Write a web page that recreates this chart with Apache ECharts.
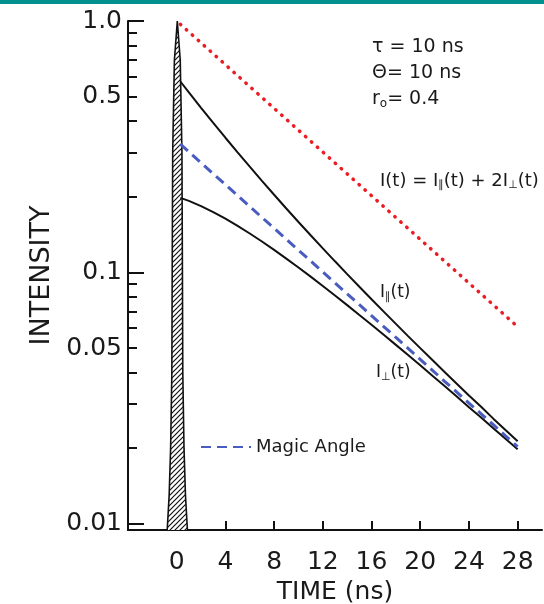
<!DOCTYPE html>
<html lang="en">
<head>
    <meta charset="UTF-8">
    <title>Intensity decay</title>
    <style>
        html, body { margin: 0; padding: 0; background: #fff; }
    </style>
</head>
<body>
<div id="chartBox" style="width: 544px;height: 604px;"></div>
<script type="text/javascript" src="https://cdn.jsdelivr.net/npm/echarts@6/dist/echarts.min.js"></script>
<script type="text/javascript">
    // time points (ns) of the decay curves
    var times = [0.3, 1, 2, 3, 4, 5, 6, 7, 8, 9, 10, 11, 12, 13, 14, 15, 16, 17, 18, 19, 20, 21, 22, 23, 24, 25, 26, 27, 28];
    // I(t) = I_par + 2 I_perp
    var totalI = [0.9704, 0.9048, 0.8187, 0.7408, 0.6703, 0.6065, 0.5488, 0.4966, 0.4493, 0.4066, 0.3679, 0.3329, 0.3012, 0.2725, 0.2466, 0.2231, 0.2019, 0.1827, 0.1653, 0.1496, 0.1353, 0.1225, 0.1108, 0.1003, 0.0907, 0.0821, 0.0743, 0.0672, 0.0608];
    var parallelI = [0.5746, 0.5199, 0.4517, 0.3933, 0.3433, 0.3003, 0.2633, 0.2313, 0.2036, 0.1796, 0.1587, 0.1405, 0.1246, 0.1107, 0.0984, 0.0877, 0.0782, 0.0698, 0.0624, 0.0558, 0.0500, 0.0448, 0.0402, 0.0361, 0.0324, 0.0292, 0.0262, 0.0236, 0.0213];
    var perpI = [0.1979, 0.1925, 0.1835, 0.1738, 0.1635, 0.1531, 0.1428, 0.1327, 0.1229, 0.1135, 0.1046, 0.0962, 0.0883, 0.0809, 0.0741, 0.0677, 0.0619, 0.0565, 0.0515, 0.0469, 0.0427, 0.0388, 0.0353, 0.0321, 0.0291, 0.0265, 0.0240, 0.0218, 0.0198];
    var magicI = [0.3235, 0.3016, 0.2729, 0.2469, 0.2234, 0.2022, 0.1829, 0.1655, 0.1498, 0.1355, 0.1226, 0.1110, 0.1004, 0.0908, 0.0822, 0.0744, 0.0673, 0.0609, 0.0551, 0.0499, 0.0451, 0.0408, 0.0369, 0.0334, 0.0302, 0.0274, 0.0248, 0.0224, 0.0203];

    // excitation pulse outline
    var pulseT = [-0.78, -0.62, -0.5, -0.4, -0.37, -0.33, -0.19, 0.05, 0.29, 0.43, 0.47, 0.5, 0.6, 0.72, 0.88];
    var pulseI = [0.00945, 0.013, 0.02, 0.04, 0.1, 0.3, 0.7, 1.0, 0.7, 0.3, 0.1, 0.04, 0.02, 0.013, 0.00945];

    // axis ticks
    var xTicks = [0, 4, 8, 12, 16, 20, 24, 28];
    var yLabelValues = [0.01, 0.05, 0.1, 0.5, 1];
    var yLabelTexts = ['0.01', '0.05', '0.1', '0.5', '1.0'];
    var yMajorTicks = [0.01, 0.1, 1];
    var yMinorTicks = [0.02, 0.03, 0.04, 0.05, 0.06, 0.07, 0.08, 0.09, 0.2, 0.3, 0.4, 0.5, 0.6, 0.7, 0.8, 0.9];

    function zip(xs, ys) {
        return xs.map(function (x, i) { return [x, ys[i]]; });
    }

    function hatch() {
        var c = document.createElement('canvas');
        c.width = 5; c.height = 5;
        var g = c.getContext('2d');
        g.fillStyle = '#fff';
        g.fillRect(0, 0, 5, 5);
        g.strokeStyle = '#111';
        g.lineWidth = 1.2;
        g.beginPath();
        g.moveTo(0, 5); g.lineTo(5, 0);
        g.moveTo(-1, 1); g.lineTo(1, -1);
        g.moveTo(4, 6); g.lineTo(6, 4);
        g.stroke();
        return c;
    }

    var font = '"DejaVu Sans", sans-serif';
    var yMin = 0.00945;
    var subStyle = { fontSize: 11, padding: [9, 0, 0, 0], fontFamily: font, fill: '#1a1a1a' };

    var myChart = echarts.init(document.getElementById('chartBox'));
    myChart.setOption({
        animation: false,
        backgroundColor: '#fff',
        grid: { left: 128, top: 21, right: 2, bottom: 74, outerBoundsMode: 'none', containLabel: false },
        legend: {
            data: ['Magic Angle'],
            left: 195, top: 433,
            itemWidth: 50, itemHeight: 20, itemGap: 2,
            itemStyle: { opacity: 0 },
            textStyle: { fontFamily: font, fontSize: 18, color: '#1a1a1a' }
        },
        xAxis: {
            type: 'value', min: -4, max: 30,
            splitLine: { show: false },
            axisLine: { onZero: false, lineStyle: { color: '#111', width: 2 } },
            axisTick: { inside: true, length: 9, customValues: xTicks, lineStyle: { color: '#111', width: 2 } },
            axisLabel: { customValues: xTicks, margin: 20, fontFamily: font, fontSize: 25, color: '#1a1a1a' },
            name: 'TIME (ns)', nameLocation: 'middle', nameGap: 50,
            nameTextStyle: { fontFamily: font, fontSize: 25, color: '#1a1a1a' }
        },
        yAxis: [{
            type: 'log', min: yMin, max: 1,
            splitLine: { show: false },
            axisLine: { onZero: false, lineStyle: { color: '#111', width: 2 } },
            axisTick: { inside: true, length: 16, customValues: yMajorTicks, lineStyle: { color: '#111', width: 2 } },
            axisLabel: {
                customValues: yLabelValues, margin: 6,
                fontFamily: font, fontSize: 25, color: '#1a1a1a',
                formatter: function (v) {
                    for (var i = 0; i < yLabelValues.length; i++) {
                        if (Math.abs(v - yLabelValues[i]) < yLabelValues[i] * 1e-3) return yLabelTexts[i];
                    }
                    return '';
                }
            },
            name: 'INTENSITY', nameLocation: 'middle', nameGap: 67, nameRotate: 90,
            nameTextStyle: { fontFamily: font, fontSize: 27, color: '#1a1a1a' }
        }, {
            type: 'log', min: yMin, max: 1, position: 'left',
            splitLine: { show: false },
            axisLine: { show: false, onZero: false },
            axisLabel: { show: false },
            axisTick: { inside: true, length: 9, customValues: yMinorTicks, lineStyle: { color: '#111', width: 2 } }
        }],
        series: [{
            name: 'pulse', type: 'line', data: zip(pulseT, pulseI),
            showSymbol: false, symbol: 'none', z: 3,
            lineStyle: { color: '#111', width: 1.6 },
            areaStyle: { color: { image: hatch(), repeat: 'repeat' }, opacity: 1, origin: 'start' }
        }, {
            name: 'I(t)', type: 'line', data: zip(times, totalI),
            showSymbol: false, symbol: 'none',
            lineStyle: { color: '#ec1c24', width: 3.5, type: [0.5, 7.5], cap: 'round' }
        }, {
            name: 'I_par', type: 'line', data: zip(times, parallelI),
            showSymbol: false, symbol: 'none',
            lineStyle: { color: '#111', width: 2 }
        }, {
            name: 'I_perp', type: 'line', data: zip(times, perpI),
            showSymbol: false, symbol: 'none',
            lineStyle: { color: '#111', width: 2 }
        }, {
            name: 'Magic Angle', type: 'line', data: zip(times, magicI),
            showSymbol: false, symbol: 'none',
            lineStyle: { color: '#4a5cc0', width: 3, type: [10, 6] }
        }],
        graphic: [
            { type: 'rect', left: 0, top: 0, shape: { width: 544, height: 4 }, style: { fill: '#00918e' } },
            { type: 'text', left: 372, top: 38, style: { text: 'τ = 10 ns', fontFamily: font, fontSize: 19, fill: '#1a1a1a' } },
            { type: 'text', left: 372, top: 64, style: { text: 'Θ= 10 ns', fontFamily: font, fontSize: 19, fill: '#1a1a1a' } },
            { type: 'text', left: 372, top: 90, style: {
                text: 'r{sub|o}= 0.4', fontFamily: font, fontSize: 19, fill: '#1a1a1a',
                rich: { sub: { fontSize: 12, padding: [8, 0, 0, 0], fontFamily: font, fill: '#1a1a1a' } }
            } },
            { type: 'text', left: 380, top: 172, style: {
                text: 'I(t) = I{sub|∥}(t) + 2I{sub|⊥}(t)', fontFamily: font, fontSize: 18, fill: '#1a1a1a',
                rich: { sub: subStyle }
            } },
            { type: 'text', left: 380, top: 284, style: {
                text: 'I{sub|∥}(t)', fontFamily: font, fontSize: 17, fill: '#1a1a1a',
                rich: { sub: subStyle }
            } },
            { type: 'text', left: 376, top: 364, style: {
                text: 'I{sub|⊥}(t)', fontFamily: font, fontSize: 17, fill: '#1a1a1a',
                rich: { sub: subStyle }
            } }
        ]
    });
</script>
</body>
</html>
